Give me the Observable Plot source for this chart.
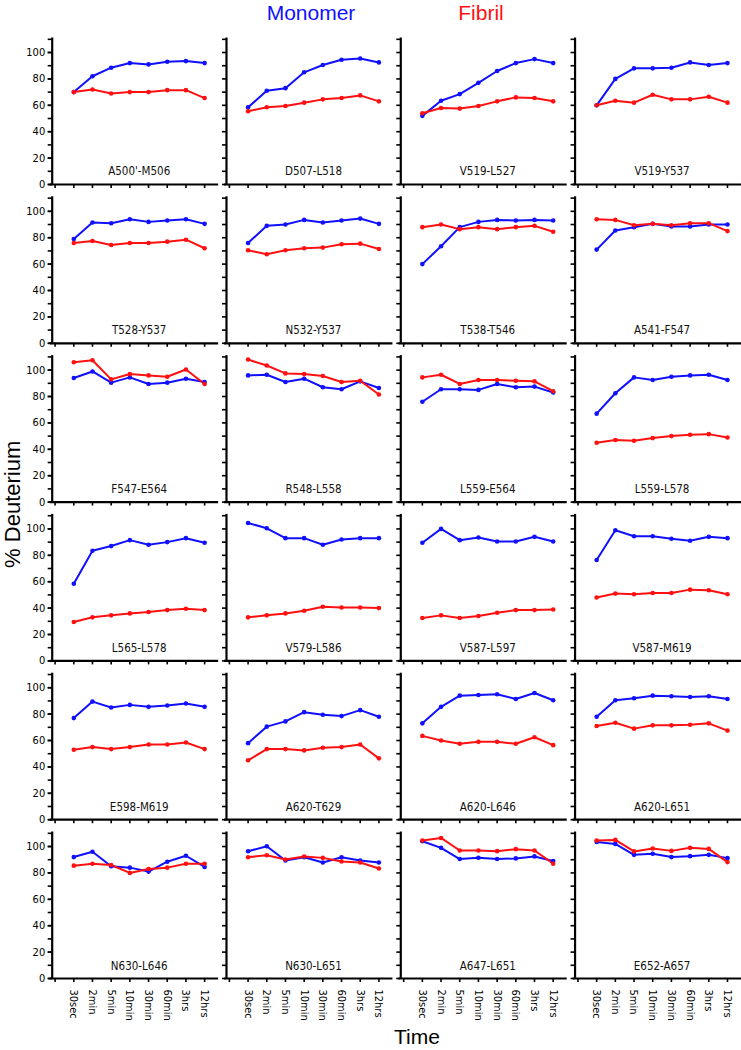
<!DOCTYPE html>
<html>
<head>
<meta charset="utf-8">
<script src="https://cdn.jsdelivr.net/npm/d3@7"></script>
<script src="https://cdn.jsdelivr.net/npm/@observablehq/plot@0.6"></script>
<style>
  html, body { margin: 0; padding: 0; background: #fff; }
  #wrap { position: relative; width: 741px; height: 1050px; overflow: hidden; }
  .ttl { position: absolute; font-family: "Liberation Sans", Arial, sans-serif; white-space: nowrap; }
</style>
</head>
<body>
<div id="wrap">
  <div class="ttl" style="left:231px; width:160px; text-align:center; top:0.5px; font-size:21px; line-height:normal; color:#1010ff;">Monomer</div>
  <div class="ttl" style="left:421px; width:120px; text-align:center; top:0.5px; font-size:21px; line-height:normal; color:#ff1010;">Fibril</div>
  <div class="ttl" style="left:357px; width:120px; text-align:center; top:1027px; font-size:21px; line-height:20px; color:#000;">Time</div>
  <div class="ttl" style="left:-67.2px; width:160px; height:24.6px; text-align:center; top:491.7px; font-size:22px; line-height:24.6px; color:#000; transform:rotate(-90deg);">% Deuterium</div>
</div>
<script>
const timeLabels = ["30sec", "2min", "5min", "10min", "30min", "60min", "3hrs", "12hrs"];

const peptides = [
  "A500'-M506", "D507-L518", "V519-L527", "V519-Y537",
  "T528-Y537", "N532-Y537", "T538-T546", "A541-F547",
  "F547-E564", "R548-L558", "L559-E564", "L559-L578",
  "L565-L578", "V579-L586", "V587-L597", "V587-M619",
  "E598-M619", "A620-T629", "A620-L646", "A620-L651",
  "N630-L646", "N630-L651", "A647-L651", "E652-A657"
];

const monomer = [
  [70, 82, 88.5, 92, 91, 93, 93.5, 92],
  [58.5, 71, 73, 85, 90.5, 94.5, 95.5, 92.5],
  [52, 63.5, 68.5, 77, 86, 92, 95, 92],
  [60, 80, 88, 88, 88.5, 92.5, 90.5, 92],
  [79, 91.5, 91, 94, 92, 93, 94, 90.5],
  [76, 89, 90, 93.5, 91.5, 93, 94.5, 90.5],
  [60, 73.5, 88, 92, 93.5, 93, 93.5, 93],
  [71, 85.5, 88, 90.5, 88.5, 88.5, 90, 90],
  [94, 99, 90.5, 94.5, 89.5, 90.5, 93.5, 91],
  [96, 96.5, 91, 93.5, 87, 85.5, 91.5, 86.5],
  [76, 85.5, 85.5, 85, 89.5, 87, 87.5, 83],
  [67, 82.5, 94.5, 92.5, 95, 96, 96.5, 92.5],
  [58.5, 83.5, 87, 91.5, 88, 90, 93, 89.5],
  [104.5, 100.5, 93, 93, 88, 92, 93, 93],
  [89.5, 100, 91.5, 93.5, 90.5, 90.5, 94, 90.5],
  [76.5, 99, 94.5, 94.5, 92.5, 91, 94, 93],
  [77, 89.5, 85, 87, 85.5, 86.5, 88, 85.5],
  [58, 70.5, 74.5, 81.5, 79.5, 78.5, 83, 78],
  [73, 85.5, 94, 94.5, 95, 91.5, 96, 90.5],
  [78, 90.5, 92, 94, 93.5, 93, 93.5, 91.5],
  [92, 96, 85, 84, 81, 88.5, 93, 84.5],
  [96.4, 100.2, 89.4, 91.9, 87.9, 91.9, 89.4, 87.9],
  [104, 99, 90.5, 91.5, 90.5, 91, 92.5, 89],
  [103.5, 102, 93.7, 94.5, 92, 92.7, 93.7, 91.2]
];

const fibril = [
  [70, 72, 69, 70, 70, 71.5, 71.5, 65.5],
  [55.5, 58.5, 59.5, 62, 64.5, 65.5, 67.5, 63],
  [54, 58, 57.5, 59.5, 63, 66, 65.5, 63],
  [60, 63.5, 62, 68, 64.5, 64.5, 66.5, 62],
  [76, 77.5, 74.5, 76, 76, 77, 78.5, 72],
  [70.5, 67.5, 70.5, 72, 72.5, 75, 75.5, 71.5],
  [88, 90, 86.5, 88, 86.5, 88, 89, 84.5],
  [94, 93.5, 89.5, 90.5, 89.5, 91, 91, 85],
  [106, 107.5, 93, 97, 96, 95, 100.5, 89.5],
  [108, 103.5, 97.5, 97, 95.5, 91, 92, 81.5],
  [94.5, 96.5, 89.5, 92.5, 92.5, 92, 91.5, 84],
  [45, 47, 46.5, 48.5, 50, 51, 51.5, 49],
  [29.5, 33, 34.5, 36, 37, 38.5, 39.5, 38.5],
  [33, 34.5, 36, 38, 41, 40.5, 40.5, 40],
  [32.5, 34.5, 32.5, 34, 36.5, 38.5, 38.5, 39],
  [48, 51, 50.5, 51.5, 51.5, 54, 53.5, 50.5],
  [53, 55, 53.5, 55, 57, 57, 58.5, 53.5],
  [45, 53.5, 53.5, 52.5, 54.5, 55, 57, 46.5],
  [63.5, 60, 57.5, 59, 59, 57.5, 62.5, 56.5],
  [71, 73.5, 69, 71.5, 71.5, 72, 73, 67.5],
  [85.5, 87, 86, 80, 83, 84, 87, 87],
  [91.9, 93.4, 90.2, 92.4, 91.4, 88.6, 87.9, 83.3],
  [104.5, 106.5, 97, 97, 96.5, 98, 97, 87],
  [104.5, 105, 96.3, 98.5, 96.7, 99, 98.2, 88.2]
];

const seriesNames = ["Monomer", "Fibril"];
const seriesColors = ["#1010ff", "#ff1010"];

// tidy tables built from the arrays above
const rows = [];
[monomer, fibril].forEach((series, s) => {
  series.forEach((vals, p) => {
    vals.forEach((v, t) => {
      rows.push({series: seriesNames[s], panel: peptides[p], col: p % 4, row: Math.floor(p / 4), t, value: v});
    });
  });
});
const panels = peptides.map((name, p) => ({name, col: p % 4, row: Math.floor(p / 4)}));
const lastRow = Math.floor((peptides.length - 1) / 4);
const timeTickLabels = [];
for (let c = 0; c < 4; c++) timeLabels.forEach((label, t) => timeTickLabels.push({col: c, row: lastRow, t, label}));

const xMin = -1.155, xMax = 7.75;

const chart = Plot.plot({
  width: 741,
  height: 1050,
  marginLeft: 51.7,
  marginRight: 0,
  marginTop: 37.5,
  marginBottom: 72,
  style: {fontFamily: "'DejaVu Sans Condensed', 'DejaVu Sans', sans-serif", fontSize: "11px", background: "transparent", color: "#000"},
  fx: {domain: [0, 1, 2, 3], paddingInner: 0.045, paddingOuter: 0, round: false, axis: null},
  fy: {domain: [0, 1, 2, 3, 4, 5], paddingInner: 0.0775, paddingOuter: 0, round: false, axis: null},
  x: {type: "linear", domain: [xMin, xMax]},
  y: {domain: [0, 111]},
  color: {domain: seriesNames, range: seriesColors},
  marks: [
    Plot.axisY({ticks: d3.range(0, 111, 10), tickSize: 4, tickFormat: () => "", facetAnchor: null, label: null, strokeWidth: 1.6}),
    Plot.axisY({ticks: d3.range(0, 101, 20), tickSize: 4, tickPadding: 3, label: null, strokeWidth: 1.6, fontSize: 11, fontFamily: "'Liberation Sans Narrow', 'DejaVu Sans Condensed', sans-serif"}),
    Plot.axisX({ticks: d3.range(-1, 8), tickSize: 4, tickFormat: () => "", facetAnchor: null, label: null, strokeWidth: 1.6}),
    Plot.text(timeTickLabels, {fx: "col", fy: "row", x: "t", text: "label", frameAnchor: "bottom", rotate: 90, textAnchor: "start", lineAnchor: "middle", dy: 11, fontSize: 11, fill: "#000"}),
    Plot.ruleX([xMin], {stroke: "#000", strokeWidth: 2.2}),
    Plot.ruleY([0], {stroke: "#000", strokeWidth: 2.2, insetLeft: -2}),
    Plot.line(rows, {x: "t", y: "value", z: "series", stroke: "series", fx: "col", fy: "row", strokeWidth: 2}),
    Plot.dot(rows, {x: "t", y: "value", fill: "series", r: 2.3, fx: "col", fy: "row"}),
    Plot.text(panels, {fx: "col", fy: "row", x: 3.5, text: "name", frameAnchor: "bottom", dy: -9, fontSize: 11.5, fill: "#111"})
  ]
});
chart.style.position = "absolute";
chart.style.left = "0px";
chart.style.top = "0px";
document.getElementById("wrap").prepend(chart);
</script>
</body>
</html>
